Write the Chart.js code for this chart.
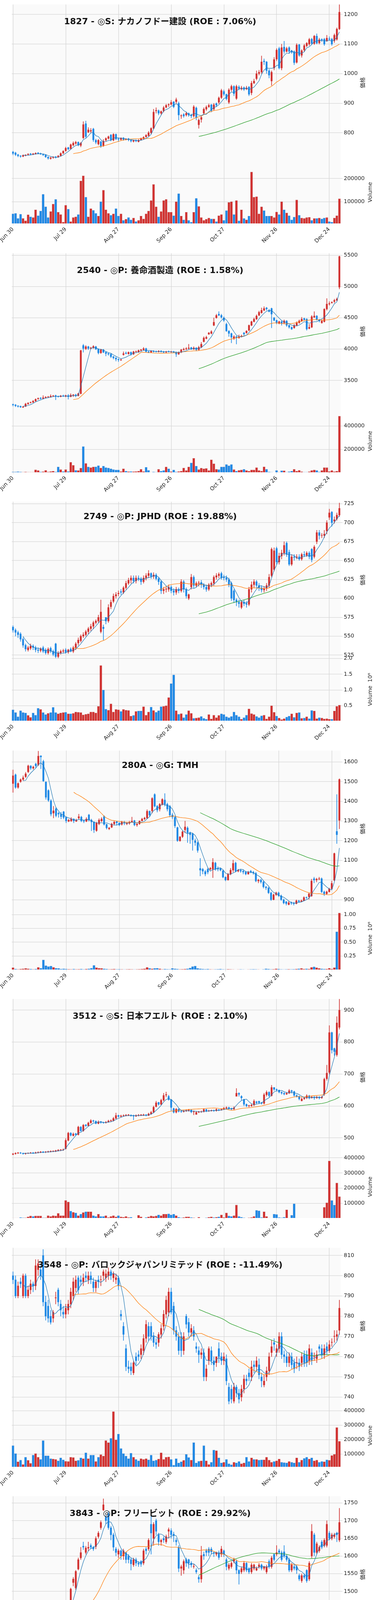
<!DOCTYPE html>
<html><head><meta charset="utf-8">
<script src="https://cdn.jsdelivr.net/npm/chart.js@4.4.1/dist/chart.umd.min.js"></script>
<style>
body{margin:0;background:#fff;}
.panel{position:absolute;left:0;width:960px;height:636px;}
.panel canvas{position:absolute;left:0;top:0;}
.ttl{position:absolute;left:0;width:820px;top:36px;text-align:center;font:bold 22px 'DejaVu Sans','Noto Sans CJK JP',sans-serif;color:#111;white-space:nowrap;pointer-events:none;}
</style></head><body>
<div id="root"></div>
<script>
const TICK_LABELS=['Jun 30','Jul 29','Aug 27','Sep 26','Oct 27','Nov 26','Dec 24'];
const TITLES=['1827 - ◎S: ナカノフドー建設 (ROE : 7.06%)','2540 - ◎P: 養命酒製造 (ROE : 1.58%)','2749 - ◎P: JPHD (ROE : 19.88%)','280A - ◎G: TMH','3512 - ◎S: 日本フエルト (ROE : 2.10%)','3548 - ◎P: バロックジャパンリミテッド (ROE : -11.49%)','3843 - ◎P: フリービット (ROE : 29.92%)','4199 - ◎G: ワンダープラネット','4246 - ◎P: ダイキョーニシカワ (ROE : 8.09%)','4588 - ◎G: オンコリスバイオファーマ (ROE : -110.09%)'];

// ---- 1827 ----
const O1=[735,732,726,722,720,723,726,729,727,729,732,730,727,725,718,713,716,719,718,722,731,739,750,746,758,764,768,757,783,831,802,805,813,775,762,770,757,775,781,793,775,795,780,777,782,778,780,775,771,774,770,776,780,786,790,800,815,874,875,866,874,886,894,896,905,905,900,857,862,860,866,860,857,884,827,845,866,880,888,895,880,899,903,919,940,930,903,946,957,916,955,948,953,948,955,935,968,983,1000,1005,1043,1040,1010,975,1019,1049,1085,1019,1090,1075,1088,1077,1075,1038,1098,1062,1080,1094,1100,1117,1102,1127,1104,1116,1117,1111,1118,1117,1111,1116,1151];
const H1=[738,735,728,724,726,727,730,731,731,733,734,732,729,727,720,718,720,721,724,733,740,752,752,763,770,772,770,768,838,840,818,815,816,779,778,772,778,784,790,795,798,797,783,784,785,781,782,777,776,777,778,783,788,795,805,818,880,885,878,875,890,897,899,910,906,918,905,862,866,870,868,864,893,888,848,857,885,892,898,897,900,902,922,948,945,932,950,962,960,962,960,958,956,958,957,975,982,1010,1012,1060,1050,1042,1015,1010,1055,1085,1090,1100,1110,1090,1092,1080,1078,1102,1100,1082,1100,1106,1120,1120,1130,1135,1120,1119,1120,1130,1125,1120,1135,1155,1235];
const L1=[725,722,718,716,718,721,724,725,725,727,728,726,722,716,710,710,713,714,716,720,729,737,742,744,755,760,755,752,780,783,800,800,770,762,758,750,753,770,778,772,772,776,770,775,774,775,772,768,768,769,768,774,778,784,788,796,812,866,860,862,870,884,888,893,884,900,843,848,852,856,855,850,852,843,815,835,862,875,885,870,875,888,898,915,925,910,898,940,925,912,945,944,942,945,925,928,965,978,995,1000,1030,1000,985,960,1012,1043,1015,1012,1068,1072,1070,1068,1030,1035,1058,1055,1075,1090,1095,1098,1098,1100,1100,1108,1095,1108,1112,1095,1105,1112,1148];
const C1=[730,726,722,720,724,725,728,727,729,731,730,728,725,718,714,716,718,717,722,730,738,748,745,760,765,768,758,765,828,787,810,808,776,768,775,755,772,781,787,776,795,779,778,781,777,779,776,772,774,772,775,780,785,792,800,815,870,876,866,872,885,893,896,903,888,912,860,858,857,866,860,857,888,851,843,852,880,887,893,875,895,893,918,943,930,915,945,957,932,957,950,952,947,952,930,968,975,1000,1005,1040,1040,1010,995,1005,1048,1080,1019,1088,1075,1085,1075,1072,1037,1097,1062,1078,1095,1103,1116,1102,1127,1103,1115,1113,1100,1120,1116,1100,1130,1151,1208];
const V1=[48,50,28,46,28,18,44,35,32,65,40,60,132,78,32,58,90,110,55,45,12,85,68,14,32,35,45,190,212,120,35,70,63,50,38,100,150,65,50,42,48,70,38,48,20,25,32,22,30,15,20,38,26,48,60,105,175,78,35,58,105,110,55,55,40,100,135,38,22,55,20,12,55,115,80,32,20,25,30,26,26,14,40,45,20,62,97,100,45,105,18,65,28,22,38,228,120,122,48,78,62,38,38,38,32,56,45,100,65,52,40,22,34,108,42,30,28,32,33,20,28,28,30,26,30,32,14,12,30,40,113];

// ---- 2540 ----
const O2=[3120,3110,3095,3090,3070,3085,3125,3145,3150,3170,3205,3220,3210,3225,3235,3240,3250,3260,3245,3240,3255,3245,3260,3240,3265,3270,3255,3290,4060,4005,4040,4010,4020,4040,4000,3940,3990,3950,3930,3920,3880,3860,3840,3825,3910,3940,3925,3950,3920,3960,3955,3980,3990,4010,3960,3950,3970,3965,3960,3970,3960,3950,3965,3955,3960,3950,3920,3950,3990,4000,4010,4025,4000,4020,3990,4030,4120,4170,4240,4250,4380,4500,4560,4540,4500,4400,4290,4250,4170,4200,4180,4200,4260,4260,4300,4380,4440,4480,4540,4580,4620,4660,4620,4650,4500,4460,4410,4440,4420,4450,4380,4350,4340,4380,4420,4450,4490,4480,4330,4350,4510,4530,4470,4420,4440,4640,4720,4740,4760,4780,4990];
const H2=[3125,3120,3100,3095,3090,3140,3150,3160,3185,3210,3225,3230,3260,3245,3250,3275,3265,3270,3255,3265,3270,3270,3280,3290,3280,3285,3300,3985,4080,4060,4050,4035,4060,4050,4010,4000,4000,3960,3945,3930,3890,3870,3850,3845,3960,3960,3960,3960,3970,3975,3990,4000,4030,4020,3970,3980,3980,3975,3980,3980,3970,3970,3975,3970,3970,3960,3960,4000,4020,4030,4080,4035,4040,4030,4050,4110,4200,4210,4270,4300,4500,4560,4600,4560,4520,4420,4300,4260,4220,4210,4230,4230,4270,4300,4390,4450,4500,4550,4610,4660,4680,4670,4640,4660,4510,4470,4450,4450,4470,4460,4390,4360,4400,4440,4470,4510,4500,4490,4400,4540,4600,4540,4480,4470,4650,4810,4760,4760,4800,4820,5490];
const L2=[3090,3080,3070,3065,3065,3080,3115,3135,3145,3165,3195,3200,3205,3215,3225,3230,3240,3190,3230,3235,3240,3235,3200,3235,3240,3235,3250,3280,3950,3990,3990,4000,4010,3990,3920,3930,3940,3890,3900,3860,3840,3810,3800,3815,3900,3920,3915,3900,3910,3945,3945,3970,3980,3950,3940,3940,3950,3950,3950,3950,3940,3940,3950,3945,3940,3880,3910,3940,3980,3990,4000,3990,3990,3970,3980,4020,4110,4160,4230,4240,4370,4490,4530,4490,4440,4280,4200,4100,4150,4080,4170,4190,4220,4250,4290,4370,4430,4470,4530,4570,4610,4620,4590,4340,4450,4400,4400,4380,4400,4360,4330,4310,4330,4370,4410,4440,4460,4300,4320,4340,4500,4460,4430,4410,4430,4620,4700,4730,4740,4770,4960];
const C2=[3110,3095,3085,3075,3080,3125,3140,3150,3170,3200,3215,3210,3225,3235,3240,3250,3255,3245,3240,3255,3250,3260,3240,3265,3270,3255,3290,3980,4010,4040,4010,4020,4045,4000,3940,3990,3950,3930,3920,3880,3860,3840,3830,3830,3930,3930,3950,3920,3960,3960,3980,3990,4010,3960,3950,3970,3960,3960,3970,3960,3950,3960,3960,3960,3950,3920,3950,3990,4000,4010,4020,4000,4020,3990,4030,4080,4180,4190,4260,4280,4430,4540,4540,4510,4460,4290,4250,4190,4200,4180,4200,4210,4240,4290,4380,4440,4480,4530,4590,4620,4650,4640,4600,4560,4460,4420,4440,4410,4450,4380,4350,4320,4380,4420,4450,4480,4470,4320,4350,4520,4530,4470,4450,4450,4640,4720,4730,4750,4780,4800,5480];
const V2=[8,8,10,8,6,8,6,6,6,26,20,8,10,22,8,12,14,8,50,28,12,28,12,90,65,22,20,40,225,80,50,45,50,52,62,42,58,45,42,35,28,25,25,12,35,15,10,12,10,12,15,30,12,48,22,5,8,6,30,15,20,50,35,10,25,8,12,15,42,20,50,85,125,58,28,40,35,38,20,112,78,30,28,50,50,72,60,72,28,15,22,25,30,20,15,25,25,45,20,15,52,30,8,6,4,20,6,18,18,6,10,14,30,15,22,10,6,6,10,20,25,20,8,20,44,45,12,20,10,15,485];

// ---- 2749 ----
const O3=[562,558,555,553,546,538,532,534,537,535,532,531,535,532,528,534,530,540,523,528,530,532,529,533,530,535,541,544,550,552,556,560,563,568,570,556,562,575,570,589,596,603,606,609,608,614,620,624,627,623,627,626,622,627,630,633,629,631,626,622,610,612,612,615,610,608,612,610,622,612,600,615,628,617,620,621,618,615,612,618,620,628,630,633,628,627,625,620,610,598,595,588,595,593,592,612,618,622,617,614,611,613,617,630,638,666,648,656,660,673,661,645,655,654,655,652,658,657,660,665,655,675,687,683,683,689,707,714,702,705,710];
const H3=[564,560,557,555,548,540,537,540,539,537,535,535,537,534,535,536,532,541,530,532,533,534,533,535,537,542,548,552,555,558,562,566,570,572,578,598,565,575,592,598,606,608,610,612,616,623,627,630,630,630,630,628,630,633,637,634,634,633,628,624,615,615,618,617,613,615,614,625,624,614,606,632,630,622,623,624,620,618,620,622,630,633,634,635,631,630,627,622,612,600,598,597,598,596,615,622,625,624,620,617,616,620,632,667,667,668,660,664,675,675,664,658,658,658,658,660,662,662,662,666,670,690,690,686,690,703,718,715,708,713,726];
const L3=[555,550,548,543,535,530,530,532,532,529,528,529,528,526,526,528,524,521,521,526,528,527,527,529,528,532,538,542,548,550,553,557,560,566,568,554,545,566,568,586,594,600,603,605,606,612,618,620,620,620,623,618,620,624,627,626,626,624,618,606,606,608,609,607,604,605,607,608,608,600,598,612,614,615,616,614,612,609,610,615,617,625,627,625,624,622,615,597,594,590,588,586,590,588,590,608,614,614,610,608,608,610,614,628,636,645,645,652,657,655,643,643,650,652,650,650,655,655,652,648,653,672,678,680,680,685,704,695,699,703,708];
const C3=[558,555,552,546,538,533,535,537,535,532,531,533,530,528,533,530,526,523,528,530,531,529,532,530,535,540,545,550,552,556,560,563,568,570,575,582,560,570,588,595,603,605,607,608,614,620,624,627,623,627,626,622,627,630,633,629,631,626,622,610,612,612,615,610,608,612,610,622,612,603,605,628,617,620,620,618,615,612,618,620,628,630,632,627,627,625,618,600,598,595,593,595,593,592,612,618,622,617,614,611,613,617,628,665,663,648,656,660,670,658,645,655,654,655,652,658,657,660,655,651,668,687,683,683,685,700,713,700,704,710,719];
const V3=[370,280,150,340,280,270,190,130,270,200,420,380,280,220,260,280,450,280,240,270,280,290,240,240,260,300,290,280,210,230,240,300,300,270,480,1780,1000,390,360,560,300,380,370,320,380,360,350,170,190,320,330,330,470,200,300,460,350,290,340,470,480,500,760,1200,1480,340,230,250,120,220,340,260,100,110,120,160,100,70,220,80,200,120,190,240,220,150,120,160,300,200,150,70,120,200,400,250,220,160,120,180,200,80,150,500,290,170,110,60,90,140,170,240,130,270,280,100,110,150,90,350,330,90,120,110,80,90,70,70,330,480,520];

// ---- 280A ----
const O4=[1490,1535,1471,1500,1511,1525,1550,1580,1568,1590,1586,1632,1603,1499,1455,1403,1340,1363,1340,1335,1347,1319,1298,1300,1310,1298,1315,1320,1302,1298,1331,1305,1295,1251,1285,1300,1323,1283,1260,1268,1285,1297,1290,1283,1295,1285,1288,1295,1302,1280,1285,1300,1310,1315,1350,1351,1435,1375,1360,1383,1407,1385,1375,1331,1319,1267,1199,1220,1255,1265,1240,1235,1200,1190,1059,1055,1043,1055,1055,1055,1087,1060,1058,1047,1015,1000,1030,1050,1087,1045,1050,1045,1040,1030,1045,1040,1035,995,1000,990,965,960,935,900,925,935,920,900,890,875,885,883,880,895,890,895,911,915,919,1007,1000,1005,1007,940,930,940,955,999,1247,1303];
const H4=[1560,1540,1495,1515,1530,1548,1585,1582,1580,1595,1655,1630,1610,1500,1460,1410,1375,1370,1345,1345,1350,1322,1310,1318,1312,1310,1335,1325,1305,1318,1335,1310,1298,1295,1312,1318,1328,1285,1268,1290,1300,1300,1293,1300,1300,1293,1300,1320,1305,1288,1302,1315,1320,1358,1352,1420,1440,1380,1390,1415,1440,1392,1380,1340,1325,1270,1222,1250,1300,1272,1245,1240,1210,1195,1110,1060,1050,1060,1065,1110,1092,1068,1062,1050,1018,1035,1060,1102,1092,1055,1055,1050,1045,1045,1050,1045,1040,1005,1005,995,970,965,940,930,940,940,925,905,892,892,890,888,900,898,900,916,915,935,1005,1015,1010,1015,1012,945,945,960,995,1138,1435,1515];
const L4=[1445,1465,1465,1495,1505,1520,1545,1560,1562,1570,1580,1565,1500,1410,1398,1325,1315,1320,1318,1310,1310,1290,1295,1296,1290,1296,1310,1295,1290,1295,1298,1250,1240,1246,1280,1295,1278,1258,1255,1265,1280,1278,1275,1278,1280,1280,1282,1292,1275,1272,1282,1300,1305,1310,1322,1340,1370,1345,1350,1380,1375,1350,1320,1310,1265,1195,1196,1215,1240,1190,1185,1150,1175,1140,1020,1030,1020,1030,1050,1012,1048,1045,1045,1010,995,998,1025,1040,1040,1040,1038,1030,1025,1028,1035,1028,990,985,983,958,950,930,895,898,920,915,895,878,872,873,875,872,878,885,890,893,905,902,915,985,990,1000,935,920,925,938,950,995,1185,1260];
const C4=[1530,1471,1491,1510,1520,1540,1580,1568,1575,1580,1630,1625,1503,1420,1405,1335,1352,1327,1335,1322,1318,1300,1305,1310,1300,1303,1322,1300,1298,1310,1305,1295,1255,1290,1305,1310,1283,1265,1265,1285,1295,1290,1280,1295,1290,1290,1295,1300,1280,1285,1300,1310,1315,1350,1330,1415,1375,1355,1385,1410,1385,1360,1330,1320,1275,1200,1220,1245,1270,1240,1230,1205,1190,1150,1050,1045,1030,1040,1060,1090,1055,1055,1050,1015,1000,1030,1050,1085,1045,1050,1045,1040,1030,1040,1040,1035,995,1000,990,965,960,935,900,925,935,920,900,883,880,885,882,880,895,890,895,911,910,930,995,1000,1005,1007,940,930,940,955,983,1135,1230,1511];
const V4=[40,15,10,15,20,25,20,15,10,15,45,30,180,75,60,70,45,30,25,15,20,15,12,10,15,10,12,15,10,15,20,30,80,40,30,25,20,15,10,12,15,10,12,10,8,10,12,10,8,10,12,15,20,45,25,20,25,30,20,10,15,12,10,25,20,15,10,12,15,20,35,60,70,25,20,15,12,15,10,8,10,12,15,10,8,12,10,8,6,8,10,8,6,8,10,12,10,8,6,10,20,15,10,12,20,15,10,8,10,12,10,12,15,20,25,15,20,15,45,55,40,25,20,15,15,30,15,40,690,1030];

// ---- 3512 ----
const O5=[448,450,452,453,452,450,451,452,453,452,454,455,456,455,456,457,458,458,460,462,462,466,492,515,507,513,510,534,522,541,538,547,554,552,545,551,548,547,550,553,554,561,570,567,569,570,571,571,569,568,570,571,571,572,570,575,580,598,611,605,618,634,630,620,592,580,590,583,582,584,586,587,581,573,580,581,582,589,584,585,586,585,588,587,589,593,595,592,590,630,640,630,620,605,600,600,603,613,615,610,608,635,643,632,658,652,650,643,640,637,640,648,645,633,630,616,622,625,632,625,628,625,628,625,637,685,705,830,780,760,846];
const H5=[452,454,455,455,453,453,454,455,455,456,457,458,458,458,459,460,460,462,464,464,466,498,518,517,516,515,537,536,543,542,550,558,556,554,554,552,550,552,556,557,565,578,572,572,573,574,574,573,572,573,574,574,575,574,578,584,600,615,612,622,640,644,634,621,594,593,592,586,587,589,590,589,585,583,584,585,592,590,588,588,588,592,590,591,596,598,597,594,598,655,642,633,622,607,603,606,620,615,614,612,640,648,645,665,658,654,647,645,642,643,652,650,647,636,632,626,628,636,634,632,630,631,630,631,688,728,852,832,782,880,935];
const L5=[446,448,450,450,448,448,450,451,450,451,452,453,453,453,454,455,456,456,458,459,460,464,490,505,505,506,508,520,520,535,536,545,549,543,543,545,545,546,548,551,552,559,564,565,567,568,569,567,556,566,568,569,569,568,569,573,578,596,602,603,615,628,617,585,577,577,580,579,580,582,583,578,572,576,578,579,580,581,582,583,582,583,584,586,588,590,589,587,588,630,630,618,600,597,596,598,600,606,606,605,605,630,628,630,648,646,640,636,634,635,638,640,630,627,618,615,620,622,621,624,620,623,621,623,632,680,700,765,758,755,840];
const C5=[450,452,453,452,450,451,452,453,452,454,455,456,455,456,457,458,458,460,462,462,463,492,515,508,512,510,534,522,540,538,547,554,552,545,550,548,547,549,553,554,561,570,567,569,570,571,571,569,568,570,571,571,572,570,575,580,596,610,605,618,633,636,620,595,580,590,583,582,584,586,587,581,582,580,581,582,589,584,585,586,585,589,587,589,593,595,592,590,594,640,636,625,605,600,600,603,615,610,610,608,635,643,632,658,652,650,643,640,637,640,648,645,633,630,622,622,625,632,625,628,625,628,625,628,684,703,830,775,770,860,900];
const V5=[5,5,5,8,6,6,12,18,15,18,18,18,6,6,20,15,20,18,35,20,20,120,110,50,42,38,20,30,40,45,45,45,20,15,30,15,15,20,8,15,20,12,20,12,10,15,8,10,4,4,22,12,4,8,12,18,15,18,25,20,30,30,32,25,30,20,10,6,8,12,12,8,6,4,10,3,3,6,10,12,8,10,12,25,8,38,18,15,20,90,15,10,6,4,6,8,15,55,52,8,45,15,5,2,30,28,8,6,10,58,5,22,98,5,2,2,1,2,2,2,2,2,2,2,75,105,380,120,90,235,145];

// ---- 3548 ----
const O6=[800,798,790,797,790,800,790,793,796,795,803,803,810,787,785,780,779,789,793,786,782,781,783,786,790,794,799,798,797,800,798,800,797,794,798,798,800,799,800,802,799,798,799,781,775,764,755,755,752,760,761,761,763,769,775,775,770,767,767,771,775,781,782,792,785,773,770,770,763,780,777,772,773,765,763,761,762,750,758,763,758,757,764,760,758,759,745,744,738,745,742,740,744,749,752,750,756,755,756,750,746,750,753,762,767,762,764,770,761,760,757,760,757,757,757,757,761,761,758,762,760,759,765,764,761,765,763,767,770,770,773];
const H6=[802,800,797,799,801,801,795,798,797,808,808,805,813,790,788,783,783,792,794,788,785,786,788,794,799,800,800,800,801,802,802,802,799,798,800,800,803,803,804,803,802,801,800,783,777,766,758,757,758,762,763,766,771,778,777,777,772,769,772,776,783,790,794,794,787,775,772,772,772,781,779,776,775,767,765,764,764,756,765,765,760,760,767,762,762,761,747,746,747,746,744,746,751,751,754,758,758,760,759,752,751,755,762,768,769,766,772,772,763,762,762,762,759,760,759,762,763,763,766,764,762,763,766,766,766,767,768,769,773,773,788];
const L6=[796,789,789,794,789,789,789,791,792,793,800,798,785,778,777,776,777,786,785,780,779,779,781,784,788,792,791,795,795,797,796,796,792,792,794,795,798,797,798,798,797,796,793,778,768,753,752,751,751,756,758,759,761,767,768,768,765,764,765,769,773,779,780,781,771,768,761,760,761,774,770,770,768,762,757,759,748,748,756,756,753,755,757,756,756,746,736,737,737,740,737,738,742,746,748,748,752,753,749,745,745,748,751,760,763,760,762,759,757,755,755,754,752,754,753,755,755,755,756,756,758,757,762,759,759,761,762,765,767,768,771];
const C6=[798,790,795,796,800,790,793,796,795,805,806,800,787,780,779,777,782,789,787,783,781,784,786,792,797,798,793,797,799,799,800,798,794,797,797,798,802,801,802,800,801,799,795,780,771,755,754,753,757,758,760,764,769,776,770,770,767,766,771,774,781,788,792,782,773,770,763,763,770,776,772,774,770,764,761,762,750,754,764,758,756,760,760,758,760,748,738,739,745,742,739,744,749,748,750,755,755,758,751,748,748,753,760,765,766,764,770,761,760,757,760,756,754,757,755,760,757,757,764,758,760,761,764,761,764,763,766,767,770,771,784];
const V6=[160,105,48,60,30,80,58,38,95,105,80,65,195,90,90,70,68,65,55,75,62,52,50,80,78,55,58,75,70,110,70,95,95,50,80,98,88,195,180,210,395,200,240,140,105,88,70,108,80,65,55,70,65,70,62,95,55,60,68,110,65,80,82,65,25,70,40,48,58,100,78,60,180,40,52,55,160,55,30,45,130,125,75,40,45,65,35,28,45,40,50,35,40,80,50,75,65,65,60,62,62,80,60,45,50,55,68,45,42,40,50,45,40,75,45,60,72,80,68,75,55,60,45,50,48,62,58,92,100,285,190];

// ---- 3843 ----
const O7=[1390,1382,1355,1360,1345,1370,1358,1362,1385,1380,1355,1348,1357,1358,1355,1385,1398,1413,1425,1430,1450,1432,1448,1475,1525,1510,1563,1595,1628,1610,1622,1630,1625,1627,1655,1680,1730,1710,1720,1680,1660,1620,1605,1615,1600,1610,1600,1590,1575,1590,1580,1585,1580,1620,1620,1690,1650,1700,1660,1640,1650,1640,1670,1672,1662,1645,1625,1565,1560,1590,1590,1580,1570,1560,1540,1535,1605,1615,1620,1620,1610,1605,1610,1605,1615,1590,1565,1570,1585,1585,1560,1555,1560,1580,1565,1555,1565,1560,1570,1575,1565,1555,1585,1570,1605,1605,1615,1610,1612,1600,1590,1560,1570,1570,1545,1530,1545,1560,1535,1600,1660,1610,1615,1640,1630,1630,1665,1650,1655,1665,1645];
const H7=[1395,1385,1365,1365,1362,1372,1365,1385,1390,1400,1358,1355,1365,1366,1390,1400,1410,1425,1432,1455,1455,1442,1475,1510,1540,1560,1595,1625,1640,1628,1640,1635,1628,1655,1670,1700,1762,1715,1725,1685,1665,1625,1620,1618,1620,1612,1605,1595,1595,1595,1585,1588,1620,1625,1650,1730,1695,1705,1665,1648,1655,1660,1680,1678,1668,1650,1630,1575,1590,1595,1592,1585,1578,1565,1545,1628,1612,1620,1625,1625,1612,1612,1615,1628,1618,1595,1580,1585,1595,1590,1562,1570,1585,1582,1568,1580,1578,1570,1580,1578,1572,1575,1590,1600,1608,1630,1620,1615,1630,1605,1595,1580,1575,1575,1550,1550,1550,1562,1585,1690,1665,1640,1630,1645,1650,1700,1670,1665,1665,1668,1735];
const L7=[1380,1352,1350,1330,1340,1355,1352,1358,1375,1350,1340,1345,1352,1352,1350,1380,1395,1408,1420,1425,1428,1430,1445,1470,1515,1505,1560,1590,1618,1605,1615,1620,1615,1620,1650,1675,1728,1690,1675,1645,1615,1600,1595,1590,1590,1580,1580,1560,1570,1572,1570,1570,1575,1605,1615,1605,1630,1660,1630,1630,1638,1635,1650,1650,1640,1630,1555,1545,1550,1570,1565,1568,1565,1550,1525,1525,1590,1600,1600,1605,1598,1600,1590,1598,1598,1560,1560,1565,1580,1550,1520,1550,1555,1555,1550,1550,1560,1558,1565,1560,1560,1550,1565,1565,1585,1600,1605,1585,1595,1585,1555,1555,1560,1550,1530,1525,1535,1525,1530,1595,1600,1605,1610,1620,1625,1625,1645,1645,1650,1640,1640];
const C7=[1388,1357,1360,1340,1358,1358,1360,1380,1380,1355,1346,1352,1360,1362,1385,1395,1405,1420,1428,1450,1432,1440,1470,1507,1535,1557,1590,1610,1625,1623,1625,1625,1620,1650,1665,1695,1745,1700,1680,1660,1625,1610,1615,1600,1615,1590,1590,1578,1590,1580,1577,1577,1615,1615,1645,1665,1690,1670,1640,1645,1645,1655,1675,1660,1658,1640,1565,1570,1585,1580,1580,1575,1570,1555,1535,1602,1600,1610,1610,1612,1608,1610,1596,1620,1605,1570,1575,1580,1590,1560,1550,1565,1580,1560,1555,1575,1575,1565,1575,1565,1570,1570,1570,1595,1590,1610,1610,1590,1600,1590,1560,1575,1565,1560,1535,1545,1540,1530,1580,1670,1610,1635,1625,1625,1645,1690,1650,1660,1660,1660,1695];
const V7=[35,75,60,375,55,40,50,60,55,80,45,40,35,35,30,45,55,115,55,65,50,50,50,70,40,55,55,108,85,60,55,40,45,55,75,125,95,65,70,70,108,55,25,40,35,35,65,40,15,25,30,40,90,100,50,165,100,85,40,20,40,60,55,40,60,30,10,40,40,60,40,15,15,45,40,60,45,40,45,30,35,40,40,20,35,35,160,40,40,40,20,20,35,10,35,15,20,25,20,20,20,15,70,50,25,20,35,30,30,15,20,15,30,40,20,15,20,25,70,138,100,40,15,30,35,75,40,45,55,50,135];

// ---- 4199 ----
const O8=[983,985,958,935,940,1115,1415,1165,1170,1160,1150,1200,1225,1190,1230,1185,1210,1200,1185,1210,1230,1225,1195,1240,1240,1215,1230,1265,1295,1305,1270,1310,1300,1335,1330,1335,1335,1310,1310,1360,1395,1385,1320,1300,1260,1245,1205,1250,1250,1245,1275,1270,1255,1250,1185,1225,1040,1020,1010,1020,1040,1000,925,920,890,860,850,830,985,890,875,860,860,820,795,800,785,788,785,780,800,790,800,770,775,765,750,735,735,730,715,712,723,725,725,740,725,722,722,721,722,725,725,738,750,770,795,800,780,745,740,730,725,720,725,730,728,745,740,745,748,748,760,810,815,875,925,1215,1215,1310];
const H8=[1050,990,962,945,970,1115,1415,1225,1195,1245,1160,1275,1230,1240,1235,1210,1215,1210,1235,1245,1235,1240,1245,1255,1245,1225,1250,1290,1310,1310,1295,1315,1325,1340,1340,1345,1340,1315,1375,1390,1400,1390,1325,1305,1265,1250,1260,1255,1255,1260,1280,1275,1262,1255,1295,1230,1045,1025,1020,1055,1045,1005,940,925,895,865,855,990,990,895,880,875,865,825,810,805,790,790,788,790,805,800,805,780,778,768,752,745,745,735,720,725,728,732,745,745,728,728,725,726,725,728,730,750,765,800,800,805,785,748,748,735,728,725,735,733,738,748,745,748,750,750,890,815,890,920,1070,1365,1290,1525];
const L8=[945,965,935,925,935,1115,1190,1140,1165,1145,1140,1200,1185,1185,1190,1180,1190,1195,1180,1205,1220,1220,1190,1235,1225,1205,1225,1260,1290,1260,1265,1295,1295,1300,1325,1330,1305,1295,1300,1355,1365,1315,1275,1255,1235,1195,1200,1240,1235,1240,1240,1245,1250,1180,1180,1040,1005,995,990,1015,1035,905,920,880,855,830,825,825,910,870,860,850,835,805,790,780,780,780,778,778,790,785,765,765,765,745,735,730,735,710,708,708,718,720,722,735,718,718,716,719,718,718,720,735,748,765,785,780,750,735,735,725,715,712,720,725,725,735,735,735,740,740,750,790,810,860,920,1155,1210,1290];
const C8=[988,970,952,940,965,1115,1190,1175,1180,1175,1155,1200,1190,1235,1195,1205,1195,1205,1230,1240,1225,1235,1240,1245,1230,1220,1245,1285,1305,1270,1290,1300,1320,1305,1335,1340,1310,1300,1370,1385,1375,1320,1280,1270,1245,1215,1255,1245,1240,1255,1245,1250,1258,1185,1250,1050,1020,1010,1015,1035,1040,935,935,885,860,845,830,985,915,880,865,870,840,810,800,785,785,785,782,785,795,795,770,775,770,750,740,740,740,715,712,720,722,728,740,738,720,722,720,723,722,722,725,748,760,795,790,785,755,740,745,730,720,718,730,728,735,738,738,738,745,745,840,795,875,915,1065,1340,1250,1460];
const V8=[15,8,6,5,10,8,1480,180,80,120,60,240,30,25,30,25,20,25,15,12,10,8,10,12,8,10,15,20,30,25,20,15,12,10,10,12,10,15,20,18,35,40,30,12,10,8,6,5,6,5,5,8,10,15,45,160,50,25,20,15,8,100,15,20,20,25,30,260,50,25,30,15,10,8,8,10,8,6,6,5,10,15,8,8,6,5,4,4,5,4,3,4,3,3,4,3,3,3,3,3,3,3,3,5,6,8,6,5,4,4,3,3,3,4,5,4,5,15,10,8,8,10,200,80,80,210,200,1430,360,1330];

// ---- 4246 ----
const O9=[639,632,630,635,643,647,637,645,655,665,672,670,670,662,663,672,663,675,698,702,695,697,700,700,700,700,700,700,705,702,723,730,729,728,728,722,736,749,743,750,765,760,745,744,744,736,737,738,744,750,762,755,750,740,740,743,745,765,760,757,750,748,745,740,750,738,723,725,724,745,740,743,735,722,716,710,715,725,722,728,730,730,738,750,753,758,740,726,734,728,737,738,737,750,742,738,740,750,745,737,730,730,737,738,758,745,760,757,765,758,760,767,770,760,759,761,765,770,758,765,772,765,770,776,790,790,788,785,784,783,792];
const H9=[642,635,637,650,650,649,647,660,668,680,676,672,672,666,675,674,668,710,706,704,701,703,702,702,706,704,706,710,707,726,733,732,731,730,730,739,752,752,755,770,767,762,748,748,746,740,741,750,746,762,765,758,752,745,746,749,768,767,762,760,752,750,748,748,752,742,728,730,735,746,747,746,738,724,720,716,724,734,724,740,732,744,752,756,762,762,742,733,736,740,738,740,746,752,745,743,754,752,748,740,737,733,743,760,760,760,763,770,768,766,768,778,772,763,762,768,767,771,766,776,775,773,780,792,793,793,791,789,787,796,799];
const L9=[630,627,629,633,640,634,634,643,653,662,666,665,663,658,660,662,660,673,695,694,692,694,694,694,697,696,697,697,700,700,720,726,724,719,720,720,733,740,740,746,756,743,740,741,733,726,734,736,737,747,757,745,737,738,738,740,742,757,754,750,745,742,736,737,736,728,713,720,720,737,737,732,720,714,710,705,713,722,716,725,722,726,735,747,750,743,720,722,726,725,727,725,733,742,735,735,737,743,737,730,728,722,735,736,740,742,753,753,758,755,756,764,755,755,754,758,757,750,755,762,760,762,766,772,783,778,776,775,776,780,790];
const C9=[633,630,634,648,645,637,645,655,666,672,670,668,666,663,672,665,665,700,702,698,698,700,697,697,703,700,703,707,703,723,729,729,727,722,725,737,749,743,750,760,760,747,744,745,737,730,738,747,740,760,760,748,740,742,743,746,765,762,758,753,748,745,740,745,738,732,723,726,732,740,742,735,725,718,714,712,720,730,720,735,726,740,748,752,760,745,724,730,730,737,730,728,742,745,738,740,750,747,740,735,733,725,740,758,742,756,758,765,763,762,765,772,758,760,758,766,762,752,763,773,763,770,778,790,789,782,780,777,780,793,797];
const V9=[155,100,110,175,120,70,125,225,270,240,185,190,100,150,120,310,120,610,285,190,175,120,110,135,150,135,135,150,190,360,255,190,210,100,150,235,120,150,160,150,175,105,100,80,90,120,140,110,125,150,70,100,110,230,120,60,185,70,115,115,200,160,120,225,110,125,80,70,90,100,160,130,70,80,100,120,200,245,120,70,110,130,125,280,100,115,110,105,165,105,120,70,70,115,115,100,115,110,95,100,80,90,145,70,100,110,100,70,80,60,75,65,95,100,130,70,80,90,205,95,110,70,40,70,145,115,60,40,70,145,115];

// ---- 4588 ----
const O10=[625,632,610,590,598,605,608,610,640,630,630,630,625,623,622,628,605,615,625,605,595,590,585,580,580,575,593,598,605,607,615,660,699,720,730,750,740,740,713,715,690,670,655,650,650,660,668,663,655,668,665,660,650,625,610,618,608,612,608,620,650,625,608,618,630,632,640,660,660,685,690,720,755,840,790,770,770,730,710,712,720,718,722,718,712,720,705,690,720,740,760,770,830,895,970,890,950,1060,1045,1060,1040,1035,1010,995,1000,955,1045,1150,1170,1080,990,1000,940,925,990,945,915,910,1080,900,830,785,810,860,910,860,910,960,1080,1265];
const H10=[645,640,612,600,608,610,614,616,645,638,633,633,628,630,628,630,612,624,628,608,598,593,588,587,586,595,596,600,613,616,640,695,722,730,748,752,745,742,724,718,692,672,658,653,658,673,670,668,662,670,668,663,652,628,622,621,618,615,618,628,652,628,622,625,642,636,658,665,685,688,735,730,875,865,795,782,773,732,713,722,723,725,724,720,718,722,707,703,750,765,770,825,860,990,985,945,1075,1080,1068,1062,1042,1040,1015,1008,1003,1050,1168,1195,1175,1082,1010,1003,945,1005,995,948,918,1005,1160,905,835,835,865,925,915,895,955,1102,1150,1415];
const L10=[620,612,585,585,595,602,604,606,625,625,620,622,618,620,618,612,600,610,612,585,585,578,575,578,577,572,585,590,602,604,612,655,695,715,725,735,735,715,710,685,665,658,640,643,645,657,660,660,652,655,655,645,625,605,606,610,602,600,603,616,625,612,600,615,626,626,636,650,656,676,685,715,740,785,770,765,733,695,690,708,710,713,708,705,707,705,675,668,715,735,755,765,825,890,860,880,940,1040,1030,1020,980,1000,990,990,950,950,1040,1140,1070,990,985,955,910,915,940,925,900,905,940,790,770,760,805,855,850,850,900,950,1070,1240];
const C10=[632,615,595,595,605,607,610,612,630,635,625,628,623,626,625,615,608,620,615,590,590,582,580,583,582,590,590,593,610,612,635,690,718,725,745,740,742,720,720,690,670,662,645,648,655,670,663,665,660,658,660,650,630,610,618,615,615,605,615,625,628,618,618,622,638,630,655,655,680,680,730,725,860,790,780,775,738,700,695,718,715,722,712,710,715,710,680,700,745,760,765,820,850,980,870,940,1060,1050,1060,1030,1000,1015,995,1005,960,1045,1165,1170,1080,1000,1000,960,920,1000,950,930,905,1000,950,830,780,830,860,920,860,890,950,1100,1120,1385];
const V10=[600,400,900,100,80,150,100,100,80,80,750,100,300,200,100,150,200,600,700,300,600,150,80,80,100,150,200,250,200,300,500,1500,1200,1000,800,700,500,400,600,400,300,200,150,100,150,200,150,100,200,300,700,600,500,400,300,250,200,300,500,200,250,500,200,300,500,400,1200,800,700,600,1200,600,10500,6500,1600,1600,1300,1000,600,500,500,400,300,400,500,400,800,700,1000,1200,1000,2000,1600,6200,2900,2000,3200,1500,1300,1700,1400,2300,3900,1500,1200,1800,2000,2000,1200,2000,1800,1600,1500,1400,1200,900,700,6800,20500,9500,3400,4000,2600,3400,2000,1700,1700,6500,4500,19000];

const VOL_UNIT=1000;
const PANELS=[
 {O:O1,H:H1,L:L1,C:C1,V:V1,p:[705,1234,100],v:[6000,276000,100000],e:null},
 {O:O2,H:H2,L:L2,C:C2,V:V2,p:[3033,5531,500],v:[4000,540000,200000],e:null},
 {O:O3,H:H3,L:L3,C:C3,V:V3,p:[521,727.7,25],v:[20000,2010000,500000],e:1},
 {O:O4,H:H4,L:L4,C:C4,V:V4,p:[863,1658,100],v:[4000,1140000,250000],e:2},
 {O:O5,H:H5,L:L5,C:C5,V:V5,p:[445,935,100],v:[4000,416000,100000],e:null},
 {O:O6,H:H6,L:L6,C:C6,V:V6,p:[736.5,813.8,10],v:[13000,445000,100000],e:null},
 {O:O7,H:H7,L:L7,C:C7,V:V7,p:[1327,1769,50],v:[4000,412000,100000],e:null},
 {O:O8,H:H8,L:L8,C:C8,V:V8,p:[703,1534,100],v:[2000,1620000,500000],e:1},
 {O:O9,H:H9,L:L9,C:C9,V:V9,p:[624.5,801,20],v:[15500,685000,200000],e:null},
 {O:O10,H:H10,L:L10,C:C10,V:V10,p:[563,1425,100],v:[170000,22400000,5000000],e:0}
];

const UP='#d1302f', DOWN='#1e88e5', GRID='#d6d6d6', TXT='#262626';
const FONT="'DejaVu Sans','Noto Sans CJK JP',sans-serif";

function ma(arr,n){const out=[];let s=0;for(let i=0;i<arr.length;i++){s+=arr[i];if(i>=n)s-=arr[i-n];out.push(i>=n-1?s/n:null);}return out;}
function stepTicks(step){return function(s){const t=[];const st=Math.ceil((s.min+1e-9)/step)*step;for(let v=st;v<=s.max+1e-9;v+=step)t.push({value:Math.round(v*1000)/1000});s.ticks=t;};}

const bgPlugin={id:'bg',beforeDraw(ch){const a=ch.chartArea,c=ch.ctx;c.save();c.fillStyle='#fafafa';c.fillRect(a.left,a.top,a.right-a.left,a.bottom-a.top);c.restore();},
 afterDraw(ch){const c=ch.ctx;const yp=ch.scales.yP,yv=ch.scales.yV;c.save();c.fillStyle=TXT;c.font='14px '+FONT;c.textAlign='center';c.textBaseline='middle';
  c.translate(929,(yp.top+yp.bottom)/2);c.rotate(-Math.PI/2);c.fillText('価格',0,0);c.restore();
  c.save();c.fillStyle=TXT;c.font='14px '+FONT;c.textAlign='center';c.textBaseline='middle';
  c.translate(948,(yv.top+yv.bottom)/2);c.rotate(-Math.PI/2);c.fillText(ch.$volTitle,0,0);c.restore();}};

const root=document.getElementById('root');
PANELS.forEach((P,k)=>{
 const div=document.createElement('div');div.className='panel';div.style.top=(k*636.5)+'px';
 const cv=document.createElement('canvas');cv.width=960;cv.height=636;cv.style.width='960px';cv.style.height='636px';
 div.appendChild(cv);
 const t=document.createElement('div');t.className='ttl';t.textContent=TITLES[k];div.appendChild(t);
 root.appendChild(div);
 const n=P.C.length;
 const labels=[];for(let i=0;i<n;i++)labels.push(i%21===0?TICK_LABELS[i/21]:'');
 const col=P.C.map((c,i)=>c>=P.O[i]?UP:DOWN);
 const vcol=P.C.map((c,i)=>c>=P.O[i]?'#a82222':'#1565c0');
 const ch=new Chart(cv,{
  data:{labels,datasets:[
   {type:'line',data:ma(P.C,5),borderColor:'#1f77b4',borderWidth:1.2,pointRadius:0,yAxisID:'yP',order:0},
   {type:'line',data:ma(P.C,25),borderColor:'#ff7f0e',borderWidth:1.3,pointRadius:0,yAxisID:'yP',order:0},
   {type:'line',data:ma(P.C,75),borderColor:'#2ca02c',borderWidth:1.3,pointRadius:0,yAxisID:'yP',order:0},
   {type:'bar',data:P.L.map((l,i)=>[l,P.H[i]]),backgroundColor:col,barThickness:1,grouped:false,yAxisID:'yP',order:2},
   {type:'bar',data:P.O.map((o,i)=>[Math.min(o,P.C[i]),Math.max(o,P.C[i])]),backgroundColor:col,barThickness:4,minBarLength:1,grouped:false,yAxisID:'yP',order:1},
   {type:'bar',data:P.V.map(v=>v*VOL_UNIT),backgroundColor:col,borderColor:vcol,borderWidth:0.6,barPercentage:1,categoryPercentage:0.96,grouped:false,yAxisID:'yV',order:1}
  ]},
  options:{responsive:false,animation:false,devicePixelRatio:1,
   layout:{padding:{left:29,top:9,right:0,bottom:8}},
   plugins:{legend:{display:false},tooltip:{enabled:false}},
   scales:{
    x:{type:'category',offset:true,
     grid:{offset:false,color:c=>(c.index%21===0?GRID:'rgba(0,0,0,0)'),lineWidth:1.3,tickLength:5},
     border:{display:false},
     ticks:{autoSkip:false,maxRotation:45,minRotation:45,color:TXT,font:{family:FONT,size:14},padding:2}},
    yP:{type:'linear',position:'right',stack:'s',stackWeight:5,min:P.p[0],max:P.p[1],
     grid:{color:GRID,lineWidth:1.3,tickLength:5},border:{display:false},
     afterBuildTicks:stepTicks(P.p[2]),
     ticks:{color:TXT,font:{family:FONT,size:14},padding:3,callback:v=>String(v)},
     afterFit(s){s.width=88;}},
    yV:{type:'linear',position:'right',stack:'s',stackWeight:2,min:P.v[0],max:P.v[1],
     grid:{color:GRID,lineWidth:1.3,tickLength:5},border:{display:false},
     afterBuildTicks:stepTicks(P.v[2]),
     ticks:{color:TXT,font:{family:FONT,size:14},padding:3,
      callback:v=>P.e===null?String(v):(v/1e6).toFixed(P.e)},
     afterFit(s){s.width=88;}}
   }},
  plugins:[bgPlugin]
 });
 ch.$volTitle=P.e===null?'Volume':'Volume  10⁶';
 ch.draw();
});
</script>
</body></html>
